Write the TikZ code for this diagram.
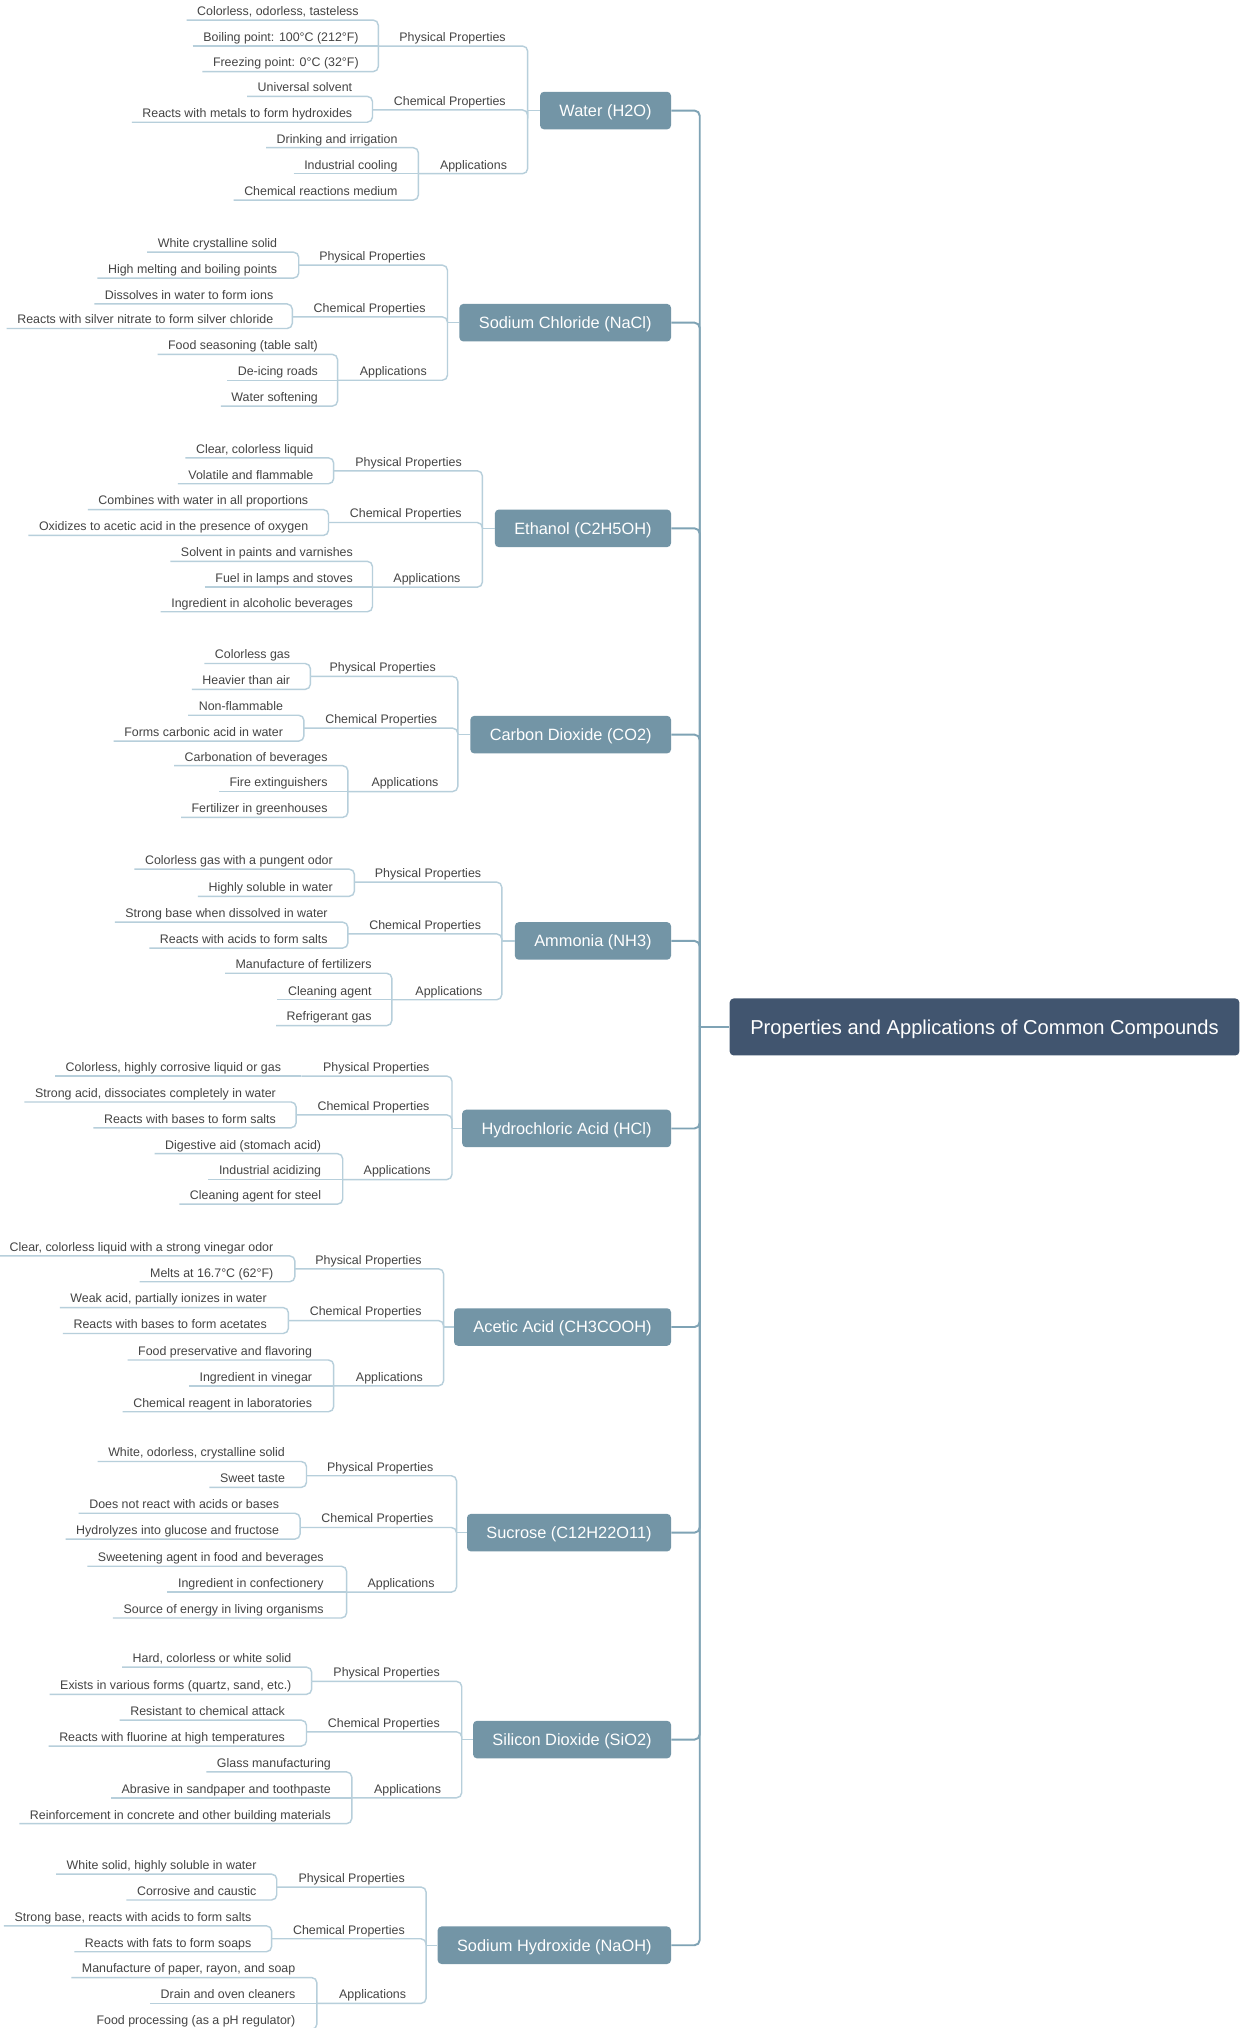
\documentclass[tikz,border=0pt]{standalone}
\usepackage{fontspec}
\setmainfont{Liberation Sans}
\definecolor{rootfill}{HTML}{41556F}
\definecolor{boxfill}{HTML}{7395A6}
\definecolor{trunkcol}{HTML}{7FA3B5}
\definecolor{linecol}{HTML}{B7CFDB}
\definecolor{textcol}{HTML}{444444}
\tikzset{
  rootbox/.style={fill=rootfill,text=white,rounded corners=3pt,anchor=west,minimum width=394pt,minimum height=44pt,text height=11pt,text depth=0pt,font=\fontsize{15.55}{18}\selectfont,inner sep=0pt},
  topicbox/.style={fill=boxfill,text=white,rounded corners=3pt,anchor=east,minimum height=29pt,text height=9pt,text depth=0pt,inner xsep=15pt,inner ysep=0pt,font=\fontsize{12.65}{15}\selectfont},
  leaflabel/.style={text=textcol,anchor=south east,inner xsep=8pt,inner ysep=1.4pt,text height=7.5pt,text depth=2pt,font=\fontsize{9.6}{11}\selectfont},
  trunkline/.style={draw=trunkcol,line width=1.5pt,rounded corners=4pt},
  subline/.style={draw=linecol,line width=1.1pt,rounded corners=4pt},
  straightline/.style={draw=linecol,line width=1.1pt}
}
\newcommand{\topic}[4]{% id, text, cy, bx1
  \node[topicbox] (#1) at (519,#3) {#2};
  \coordinate (#1-k) at (#4,#3);
  \draw[straightline] (#1-k) -- (#1.west);
  \draw[trunkline] (#1.east) -| (trunk);
}
\newcommand{\branch}[7]{% id, key, text, bx2, ly, label right, leaf right
  \coordinate (#1-#2) at (#4,#5);
  \coordinate (#1-#2-r) at (#7+8.5,#5);
  \node[leaflabel] (#1-#2-t) at (#6+8.2,#5) {#3};
  \draw[subline] (#1-#2) -| (#1-k);
}
\newcommand{\leaf}[5]{% id, key, num, uy, text
  \node[leaflabel] (#1-#2-#3) at (#1-#2-r |- 0,#4) {#5};
  \draw[subline] (#1-#2-#3.south west) -| (#1-#2);
}
\newcommand{\midleaf}[5]{% leaf on the line of its branch
  \node[leaflabel] (#1-#2-#3) at (#1-#2-r |- 0,#4) {#5};
  \draw[straightline] (#1-#2-#3.south west) -- (#1-#2);
}
\begin{document}
\begin{tikzpicture}[x=1pt,y=-1pt]
\useasboundingbox (0,0) rectangle (959,1568);
\clip (0,0) rectangle (959,1568);
\fill[white] (0,0) rectangle (959,1568);
\node[rootbox] (root) at (564,794) {\hspace*{0pt}Properties and Applications of Common Compounds};
\coordinate (trunk) at (541,794);
\draw[trunkline] (root.west) -- (trunk);

\topic{wa}{Water (H2O)}{85.5}{408}
\branch{wa}{p}{Physical Properties}{292.5}{35.6}{391}{277}
\leaf{wa}{p}{1}{15.5}{Colorless, odorless, tasteless}
\midleaf{wa}{p}{2}{35.6}{Boiling point: 100°C (212°F)}
\leaf{wa}{p}{3}{55.4}{Freezing point: 0°C (32°F)}
\branch{wa}{c}{Chemical Properties}{288}{85}{391}{272}
\leaf{wa}{c}{1}{74.5}{Universal solvent}
\leaf{wa}{c}{2}{94.5}{Reacts with metals to form hydroxides}
\branch{wa}{a}{Applications}{323.5}{134.3}{392}{307}
\leaf{wa}{a}{1}{114.2}{Drinking and irrigation}
\midleaf{wa}{a}{2}{134.3}{Industrial cooling}
\leaf{wa}{a}{3}{154.7}{Chemical reactions medium}

\topic{na}{Sodium Chloride (NaCl)}{249.5}{346}
\branch{na}{p}{Physical Properties}{231}{205}{329}{214}
\leaf{na}{p}{1}{195}{White crystalline solid}
\leaf{na}{p}{2}{215}{High melting and boiling points}
\branch{na}{c}{Chemical Properties}{226}{245}{329}{211}
\leaf{na}{c}{1}{235}{Dissolves in water to form ions}
\leaf{na}{c}{2}{254}{Reacts with silver nitrate to form silver chloride}
\branch{na}{a}{Applications}{261}{294}{330}{245.5}
\leaf{na}{a}{1}{274}{Food seasoning (table salt)}
\midleaf{na}{a}{2}{294}{De-icing roads}
\leaf{na}{a}{3}{314}{Water softening}

\topic{et}{Ethanol (C2H5OH)}{408.5}{373}
\branch{et}{p}{Physical Properties}{258}{364}{357}{242}
\leaf{et}{p}{1}{354}{Clear, colorless liquid}
\leaf{et}{p}{2}{374}{Volatile and flammable}
\branch{et}{c}{Chemical Properties}{254}{404}{357}{238}
\leaf{et}{c}{1}{394}{Combines with water in all proportions}
\leaf{et}{c}{2}{414}{Oxidizes to acetic acid in the presence of oxygen}
\branch{et}{a}{Applications}{288}{454}{356}{272.5}
\leaf{et}{a}{1}{434}{Solvent in paints and varnishes}
\midleaf{et}{a}{2}{454}{Fuel in lamps and stoves}
\leaf{et}{a}{3}{473}{Ingredient in alcoholic beverages}

\topic{co}{Carbon Dioxide (CO2)}{568}{354}
\branch{co}{p}{Physical Properties}{240}{523}{337}{224}
\leaf{co}{p}{1}{513}{Colorless gas}
\leaf{co}{p}{2}{533}{Heavier than air}
\branch{co}{c}{Chemical Properties}{235}{563}{338}{218.5}
\leaf{co}{c}{1}{553}{Non-flammable}
\leaf{co}{c}{2}{573}{Forms carbonic acid in water}
\branch{co}{a}{Applications}{269}{612}{339}{253}
\leaf{co}{a}{1}{592}{Carbonation of beverages}
\midleaf{co}{a}{2}{612}{Fire extinguishers}
\leaf{co}{a}{3}{632}{Fertilizer in greenhouses}

\topic{nh}{Ammonia (NH3)}{727.5}{388}
\branch{nh}{p}{Physical Properties}{274}{682}{372}{257}
\leaf{nh}{p}{1}{672}{Colorless gas with a pungent odor}
\leaf{nh}{p}{2}{693}{Highly soluble in water}
\branch{nh}{c}{Chemical Properties}{269}{722}{372}{253}
\leaf{nh}{c}{1}{713}{Strong base when dissolved in water}
\leaf{nh}{c}{2}{733}{Reacts with acids to form salts}
\branch{nh}{a}{Applications}{303}{773}{373}{287}
\leaf{nh}{a}{1}{752.5}{Manufacture of fertilizers}
\midleaf{nh}{a}{2}{773}{Cleaning agent}
\leaf{nh}{a}{3}{793}{Refrigerant gas}

\topic{hc}{Hydrochloric Acid (HCl)}{872.5}{349.5}
\branch{hc}{p}{Physical Properties}{233}{832}{332}{217}
\midleaf{hc}{p}{1}{832}{Colorless, highly corrosive liquid or gas}
\branch{hc}{c}{Chemical Properties}{229}{862}{332}{213}
\leaf{hc}{c}{1}{852}{Strong acid, dissociates completely in water}
\leaf{hc}{c}{2}{872}{Reacts with bases to form salts}
\branch{hc}{a}{Applications}{265}{912}{333}{248}
\leaf{hc}{a}{1}{892}{Digestive aid (stomach acid)}
\midleaf{hc}{a}{2}{912}{Industrial acidizing}
\leaf{hc}{a}{3}{931}{Cleaning agent for steel}

\topic{ac}{Acetic Acid (CH3COOH)}{1026}{343}
\branch{ac}{p}{Physical Properties}{228}{981}{326}{211}
\leaf{ac}{p}{1}{971}{Clear, colorless liquid with a strong vinegar odor}
\leaf{ac}{p}{2}{991}{Melts at 16.7°C (62°F)}
\branch{ac}{c}{Chemical Properties}{223}{1021}{326}{206}
\leaf{ac}{c}{1}{1011}{Weak acid, partially ionizes in water}
\leaf{ac}{c}{2}{1031}{Reacts with bases to form acetates}
\branch{ac}{a}{Applications}{258}{1071.5}{327}{241}
\leaf{ac}{a}{1}{1051.5}{Food preservative and flavoring}
\midleaf{ac}{a}{2}{1071.5}{Ingredient in vinegar}
\leaf{ac}{a}{3}{1091.5}{Chemical reagent in laboratories}

\topic{su}{Sucrose (C12H22O11)}{1185}{353}
\branch{su}{p}{Physical Properties}{237}{1141}{335}{220}
\leaf{su}{p}{1}{1130}{White, odorless, crystalline solid}
\leaf{su}{p}{2}{1150}{Sweet taste}
\branch{su}{c}{Chemical Properties}{232}{1181}{335}{215.5}
\leaf{su}{c}{1}{1170}{Does not react with acids or bases}
\leaf{su}{c}{2}{1190}{Hydrolyzes into glucose and fructose}
\branch{su}{a}{Applications}{268}{1231}{336}{250}
\leaf{su}{a}{1}{1211}{Sweetening agent in food and beverages}
\midleaf{su}{a}{2}{1231}{Ingredient in confectionery}
\leaf{su}{a}{3}{1251}{Source of energy in living organisms}

\topic{si}{Silicon Dioxide (SiO2)}{1345}{357}
\branch{si}{p}{Physical Properties}{241}{1300}{340}{225}
\leaf{si}{p}{1}{1289}{Hard, colorless or white solid}
\leaf{si}{p}{2}{1310}{Exists in various forms (quartz, sand, etc.)}
\branch{si}{c}{Chemical Properties}{237}{1339}{340}{220}
\leaf{si}{c}{1}{1330}{Resistant to chemical attack}
\leaf{si}{c}{2}{1350}{Reacts with fluorine at high temperatures}
\branch{si}{a}{Applications}{272}{1390}{341}{255.5}
\leaf{si}{a}{1}{1370}{Glass manufacturing}
\midleaf{si}{a}{2}{1390}{Abrasive in sandpaper and toothpaste}
\leaf{si}{a}{3}{1410}{Reinforcement in concrete and other building materials}

\topic{no}{Sodium Hydroxide (NaOH)}{1504}{329.5}
\branch{no}{p}{Physical Properties}{214}{1459}{313}{198}
\leaf{no}{p}{1}{1449}{White solid, highly soluble in water}
\leaf{no}{p}{2}{1469}{Corrosive and caustic}
\branch{no}{c}{Chemical Properties}{210}{1499}{313}{194}
\leaf{no}{c}{1}{1489}{Strong base, reacts with acids to form salts}
\leaf{no}{c}{2}{1509}{Reacts with fats to form soaps}
\branch{no}{a}{Applications}{245}{1549}{314}{228}
\leaf{no}{a}{1}{1529}{Manufacture of paper, rayon, and soap}
\midleaf{no}{a}{2}{1549}{Drain and oven cleaners}
\leaf{no}{a}{3}{1569}{Food processing (as a pH regulator)}
\end{tikzpicture}
\end{document}
